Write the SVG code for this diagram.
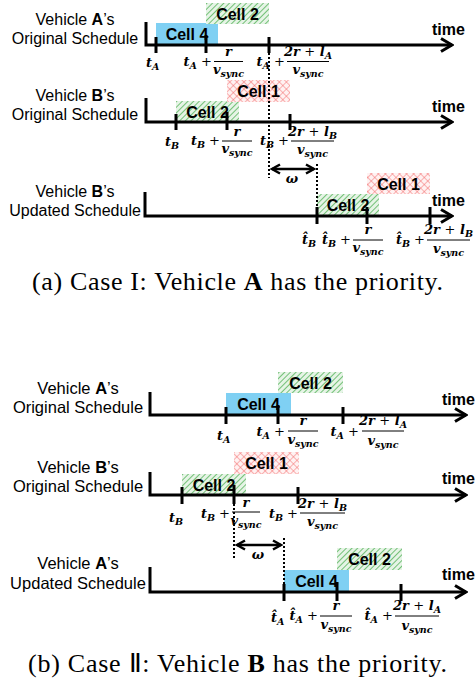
<svg xmlns="http://www.w3.org/2000/svg" width="476" height="683" viewBox="0 0 476 683">
<defs>
<pattern id="green" width="4" height="4" patternUnits="userSpaceOnUse" patternTransform="rotate(45)">
<rect width="4" height="4" fill="#e6f4e6"/>
<line x1="0" y1="0" x2="0" y2="4" stroke="#55b35a" stroke-width="1.6"/>
</pattern>
<pattern id="red" width="5" height="5" patternUnits="userSpaceOnUse" patternTransform="rotate(45)">
<rect width="5" height="5" fill="#fff2f2"/>
<line x1="0" y1="0" x2="0" y2="5" stroke="#f36a6a" stroke-width="1"/>
<line x1="0" y1="0" x2="5" y2="0" stroke="#f36a6a" stroke-width="1"/>
</pattern>
<marker id="arr" markerWidth="14" markerHeight="16" refX="12" refY="8" orient="auto" markerUnits="userSpaceOnUse">
<path d="M1,1.5 L12,8 L1,14.5" fill="none" stroke="#000" stroke-width="3"/>
</marker>
<marker id="sarr" markerWidth="12" markerHeight="12" refX="9" refY="6" orient="auto-start-reverse" markerUnits="userSpaceOnUse">
<path d="M1,1.5 L9,6 L1,10.5" fill="none" stroke="#000" stroke-width="2.5"/>
</marker>
<style>
.ax{fill:none;stroke:#000;stroke-width:3}
.tk{stroke:#000;stroke-width:3}
.blue{fill:#7fd0f3}
.grn{fill:url(#green)}
.rd{fill:url(#red)}
.cell{font-family:"Liberation Sans",Arial,sans-serif;font-weight:bold;font-size:16px;text-anchor:middle;fill:#000}
.time{font-family:"Liberation Sans",Arial,sans-serif;font-weight:bold;font-size:16px;fill:#000}
.lbl{font-family:"Liberation Sans",Arial,sans-serif;font-size:16px;text-anchor:middle;fill:#000}
.lblb{font-family:"Liberation Sans",Arial,sans-serif;font-size:16.5px;text-anchor:middle;fill:#000}
.m{font-family:"DejaVu Serif",serif;font-style:italic;font-weight:bold;font-size:13px;fill:#000}
.mc{font-family:"DejaVu Serif",serif;font-style:italic;font-weight:bold;font-size:13px;fill:#000;text-anchor:middle}
.me{font-family:"DejaVu Serif",serif;font-style:italic;font-weight:bold;font-size:13px;fill:#000;text-anchor:end}
.s{font-size:9.5px}
.p{font-style:normal;font-weight:normal}
.bar{stroke:#000;stroke-width:1}
.dot{stroke:#000;stroke-width:2;stroke-dasharray:2,2;fill:none}
.w{stroke:#000;stroke-width:2.5;fill:none}
.cap{font-family:"Liberation Serif","Times New Roman",serif;font-size:26px;text-anchor:middle;fill:#000}
</style>
</defs>

<!-- Panel (a) -->
<g id="a-row1">
<text class="lbl" x="75" y="25">Vehicle <tspan font-weight="bold">A</tspan>’s</text>
<text class="lbl" x="75" y="44">Original Schedule</text>
<rect class="blue" x="156" y="23" width="62" height="22"/>
<rect class="grn" x="206" y="3" width="63" height="21"/>
<text class="cell" x="187" y="40">Cell 4</text>
<text class="cell" x="237.5" y="20">Cell 2</text>
<path class="ax" d="M146,22 V45 H452" marker-end="url(#arr)"/>
<line class="tk" x1="156" y1="37" x2="156" y2="53"/>
<line class="tk" x1="206" y1="35" x2="206" y2="53"/>
<line class="tk" x1="269" y1="37" x2="269" y2="53"/>
<text class="time" x="432" y="35">time</text>
<text class="m" x="146" y="67">t<tspan class="s" dy="3">A</tspan></text>
<text class="me" x="212" y="66">t<tspan class="s" dy="3">A</tspan><tspan class="p" dy="-3"> +</tspan></text>
<line class="bar" x1="214" y1="61.5" x2="243" y2="61.5"/>
<text class="mc" x="228.5" y="56">r</text>
<text class="mc" x="228.5" y="74">v<tspan class="s" dy="3">sync</tspan></text>
<text class="me" x="285" y="66">t<tspan class="s" dy="3">A</tspan><tspan class="p" dy="-3"> +</tspan></text>
<line class="bar" x1="287" y1="61.5" x2="329" y2="61.5"/>
<text class="mc" x="308" y="56">2r <tspan class="p">+</tspan> l<tspan class="s" dy="3">A</tspan></text>
<text class="mc" x="308" y="74">v<tspan class="s" dy="3">sync</tspan></text>
</g>

<g id="a-row2">
<text class="lbl" x="75" y="101">Vehicle <tspan font-weight="bold">B</tspan>’s</text>
<text class="lbl" x="75" y="120">Original Schedule</text>
<rect class="grn" x="176" y="101" width="63" height="21"/>
<rect class="rd" x="227" y="80" width="63" height="22"/>
<text class="cell" x="207.5" y="118">Cell 2</text>
<text class="cell" x="258.5" y="97">Cell 1</text>
<path class="ax" d="M146,98 V122 H452" marker-end="url(#arr)"/>
<line class="tk" x1="176" y1="114" x2="176" y2="130"/>
<line class="tk" x1="227" y1="112" x2="227" y2="130"/>
<line class="tk" x1="290" y1="114" x2="290" y2="130"/>
<text class="time" x="432" y="112">time</text>
<text class="m" x="165" y="146">t<tspan class="s" dy="3">B</tspan></text>
<text class="me" x="220" y="145">t<tspan class="s" dy="3">B</tspan><tspan class="p" dy="-3"> +</tspan></text>
<line class="bar" x1="222" y1="141" x2="252" y2="141"/>
<text class="mc" x="237" y="136">r</text>
<text class="mc" x="237" y="153">v<tspan class="s" dy="3">sync</tspan></text>
<text class="me" x="289" y="145">t<tspan class="s" dy="3">B</tspan><tspan class="p" dy="-3"> +</tspan></text>
<line class="bar" x1="291" y1="141" x2="334" y2="141"/>
<text class="mc" x="312.5" y="136">2r <tspan class="p">+</tspan> l<tspan class="s" dy="3">B</tspan></text>
<text class="mc" x="312.5" y="154">v<tspan class="s" dy="3">sync</tspan></text>
</g>

<g id="a-row3">
<text class="lbl" x="75" y="197">Vehicle <tspan font-weight="bold">B</tspan>’s</text>
<text class="lbl" x="75" y="216">Updated Schedule</text>
<rect class="grn" x="317" y="194" width="62" height="22"/>
<rect class="rd" x="367" y="173" width="63" height="21"/>
<text class="cell" x="348" y="211">Cell 2</text>
<text class="cell" x="398.5" y="190">Cell 1</text>
<path class="ax" d="M145,192 V216 H452" marker-end="url(#arr)"/>
<line class="tk" x1="317" y1="207" x2="317" y2="224"/>
<line class="tk" x1="367" y1="207" x2="367" y2="224"/>
<line class="tk" x1="430" y1="207" x2="430" y2="224"/>
<text class="time" x="432" y="206">time</text>
<text class="m" x="302" y="244">t̂<tspan class="s" dy="3">B</tspan></text>
<text class="me" x="351" y="244">t̂<tspan class="s" dy="3">B</tspan><tspan class="p" dy="-3"> +</tspan></text>
<line class="bar" x1="353" y1="240" x2="383" y2="240"/>
<text class="mc" x="368" y="234">r</text>
<text class="mc" x="368" y="252">v<tspan class="s" dy="3">sync</tspan></text>
<text class="me" x="425" y="244">t̂<tspan class="s" dy="3">B</tspan><tspan class="p" dy="-3"> +</tspan></text>
<line class="bar" x1="427" y1="240" x2="470" y2="240"/>
<text class="mc" x="448.5" y="234">2r <tspan class="p">+</tspan> l<tspan class="s" dy="3">B</tspan></text>
<text class="mc" x="448.5" y="253">v<tspan class="s" dy="3">sync</tspan></text>
</g>

<!-- Panel (b) -->
<g id="b-row1">
<text class="lblb" x="78" y="394">Vehicle <tspan font-weight="bold">A</tspan>’s</text>
<text class="lblb" x="78" y="413">Original Schedule</text>
<rect class="blue" x="226" y="393" width="65" height="22"/>
<rect class="grn" x="278" y="372" width="65" height="21"/>
<text class="cell" x="258.5" y="410">Cell 4</text>
<text class="cell" x="310.5" y="389">Cell 2</text>
<path class="ax" d="M150,392 V415 H466" marker-end="url(#arr)"/>
<line class="tk" x1="226" y1="407" x2="226" y2="424"/>
<line class="tk" x1="278" y1="405" x2="278" y2="424"/>
<line class="tk" x1="343" y1="407" x2="343" y2="424"/>
<text class="time" x="442" y="405">time</text>
<text class="m" x="217" y="440">t<tspan class="s" dy="3">A</tspan></text>
<text class="me" x="285" y="436">t<tspan class="s" dy="3">A</tspan><tspan class="p" dy="-3"> +</tspan></text>
<line class="bar" x1="288" y1="431" x2="318" y2="431"/>
<text class="mc" x="303" y="425">r</text>
<text class="mc" x="303" y="444">v<tspan class="s" dy="3">sync</tspan></text>
<text class="me" x="359" y="436">t<tspan class="s" dy="3">A</tspan><tspan class="p" dy="-3"> +</tspan></text>
<line class="bar" x1="362" y1="431" x2="404" y2="431"/>
<text class="mc" x="383" y="425">2r <tspan class="p">+</tspan> l<tspan class="s" dy="3">A</tspan></text>
<text class="mc" x="383" y="445">v<tspan class="s" dy="3">sync</tspan></text>
</g>

<g id="b-row2">
<text class="lblb" x="78" y="473">Vehicle <tspan font-weight="bold">B</tspan>’s</text>
<text class="lblb" x="78" y="492">Original Schedule</text>
<rect class="grn" x="182" y="474" width="64" height="21"/>
<rect class="rd" x="234" y="452" width="65" height="22"/>
<text class="cell" x="214" y="491">Cell 2</text>
<text class="cell" x="266.5" y="469">Cell 1</text>
<path class="ax" d="M150,472 V495 H466" marker-end="url(#arr)"/>
<line class="tk" x1="182" y1="487" x2="182" y2="504"/>
<line class="tk" x1="234" y1="485" x2="234" y2="504"/>
<line class="tk" x1="298" y1="487" x2="298" y2="504"/>
<text class="time" x="442" y="484">time</text>
<text class="m" x="169" y="522">t<tspan class="s" dy="3">B</tspan></text>
<text class="me" x="230" y="518">t<tspan class="s" dy="3">B</tspan><tspan class="p" dy="-3"> +</tspan></text>
<line class="bar" x1="232" y1="512" x2="260" y2="512"/>
<text class="mc" x="246" y="507">r</text>
<text class="mc" x="246" y="525">v<tspan class="s" dy="3">sync</tspan></text>
<text class="me" x="298" y="518">t<tspan class="s" dy="3">B</tspan><tspan class="p" dy="-3"> +</tspan></text>
<line class="bar" x1="300" y1="513" x2="345" y2="513"/>
<text class="mc" x="322.5" y="508">2r <tspan class="p">+</tspan> l<tspan class="s" dy="3">B</tspan></text>
<text class="mc" x="322.5" y="526">v<tspan class="s" dy="3">sync</tspan></text>
</g>

<g id="b-row3">
<text class="lblb" x="78" y="569">Vehicle <tspan font-weight="bold">A</tspan>’s</text>
<text class="lblb" x="78" y="589">Updated Schedule</text>
<rect class="blue" x="284" y="570" width="65" height="22"/>
<rect class="grn" x="337" y="548" width="65" height="22"/>
<text class="cell" x="316.5" y="587">Cell 4</text>
<text class="cell" x="369.5" y="565">Cell 2</text>
<path class="ax" d="M150,567 V592 H466" marker-end="url(#arr)"/>
<line class="tk" x1="284" y1="584" x2="284" y2="601"/>
<line class="tk" x1="337" y1="582" x2="337" y2="601"/>
<line class="tk" x1="401" y1="584" x2="401" y2="601"/>
<text class="time" x="442" y="580">time</text>
<text class="m" x="271" y="622">t̂<tspan class="s" dy="3">A</tspan></text>
<text class="me" x="318" y="620">t̂<tspan class="s" dy="3">A</tspan><tspan class="p" dy="-3"> +</tspan></text>
<line class="bar" x1="320" y1="616" x2="352" y2="616"/>
<text class="mc" x="336" y="610">r</text>
<text class="mc" x="336" y="629">v<tspan class="s" dy="3">sync</tspan></text>
<text class="me" x="393" y="620">t̂<tspan class="s" dy="3">A</tspan><tspan class="p" dy="-3"> +</tspan></text>
<line class="bar" x1="395" y1="616" x2="439" y2="616"/>
<text class="mc" x="417" y="610">2r <tspan class="p">+</tspan> l<tspan class="s" dy="3">A</tspan></text>
<text class="mc" x="417" y="630">v<tspan class="s" dy="3">sync</tspan></text>
</g>

<g id="connectors">
<line class="dot" x1="269" y1="53" x2="269" y2="178"/>
<line class="dot" x1="317" y1="164" x2="317" y2="207"/>
<line class="w" x1="272" y1="169" x2="314" y2="169" marker-start="url(#sarr)" marker-end="url(#sarr)"/>
<text class="mc" x="292" y="183">ω</text>
<line class="dot" x1="234" y1="504" x2="234" y2="560"/>
<line class="dot" x1="284" y1="538" x2="284" y2="584"/>
<line class="w" x1="237" y1="545" x2="281" y2="545" marker-start="url(#sarr)" marker-end="url(#sarr)"/>
<text class="mc" x="258" y="559">ω</text>
</g>

<g id="captions">
<text class="cap" x="237.5" y="290" textLength="411" lengthAdjust="spacing">(a) Case I: Vehicle <tspan font-weight="bold">A</tspan> has the priority.</text>
<text class="cap" x="237.5" y="672" textLength="419" lengthAdjust="spacing">(b) Case Ⅱ: Vehicle <tspan font-weight="bold">B</tspan> has the priority.</text>
</g>
</svg>
